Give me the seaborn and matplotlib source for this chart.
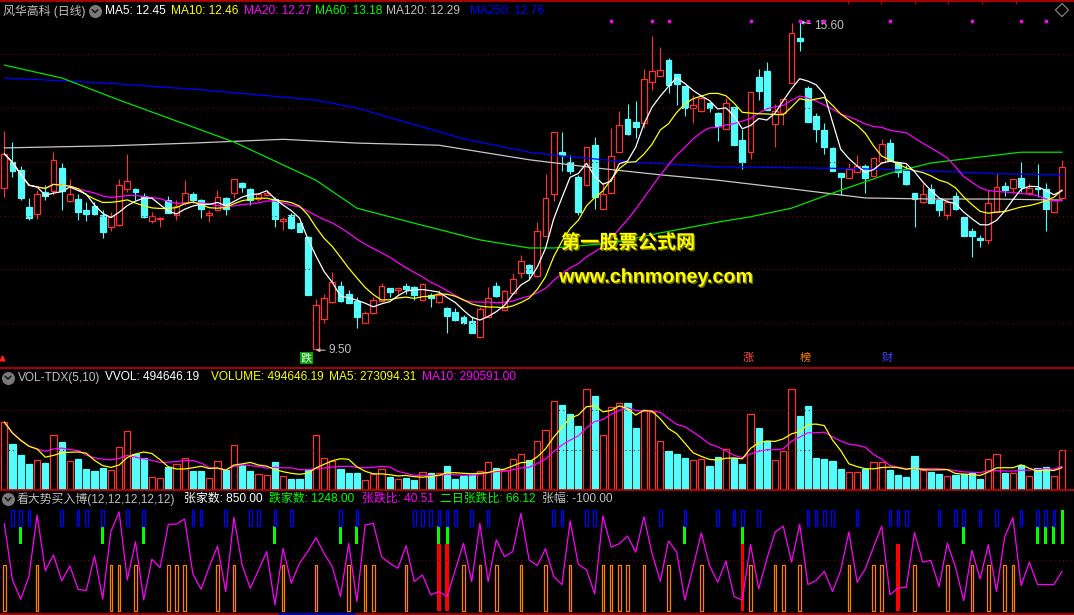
import numpy as np
import pandas as pd
import seaborn as sns
import matplotlib.pyplot as plt
from matplotlib import patheffects

# daily candles, oldest first
opens = [12.51, 13.00, 12.85, 12.16, 12.03, 12.44, 12.46, 12.89, 12.27, 12.31,
         12.11, 12.18, 12.01, 11.79, 11.83, 12.50, 12.50, 12.37, 11.90, 11.94,
         12.29, 12.01, 12.23, 12.40, 12.29, 12.01, 12.11, 12.33, 12.42, 12.61,
         12.50, 12.31, 12.38, 12.31, 11.90, 12.01, 11.86, 11.60, 9.52, 10.08,
         10.40, 10.69, 10.54, 10.41, 10.01, 10.19, 10.41, 10.66, 10.62, 10.69,
         10.67, 10.43, 10.53, 10.40, 10.28, 10.21, 10.12, 10.04, 9.75, 10.12,
         10.69, 10.25, 10.56, 10.93, 11.08, 10.88, 11.62, 12.40, 13.18, 13.00,
         12.72, 12.57, 13.31, 12.12, 12.42, 13.18, 13.80, 13.74, 13.72, 14.49,
         14.60, 14.89, 14.63, 14.41, 14.00, 13.95, 14.10, 13.91, 13.61, 14.02,
         13.41, 13.18, 14.58, 14.69, 13.70, 13.91, 14.47, 15.30, 14.37, 13.85,
         13.59, 13.26, 12.79, 12.70, 12.81, 12.92, 12.74, 13.00, 13.35, 12.98,
         12.85, 12.42, 12.26, 12.50, 12.29, 12.01, 12.37, 11.98, 11.72, 11.59,
         11.55, 12.07, 12.55, 12.51, 12.70, 12.42, 12.51, 12.50, 12.07, 12.33]
closes = [13.15, 12.83, 12.33, 11.96, 12.40, 12.37, 13.04, 12.46, 12.40, 12.07,
          12.03, 12.03, 11.70, 11.99, 12.57, 12.65, 12.44, 11.98, 11.99, 11.96,
          12.05, 12.18, 12.42, 12.29, 12.12, 12.05, 12.35, 12.12, 12.68, 12.53,
          12.29, 12.40, 12.42, 11.94, 11.94, 11.77, 11.70, 10.53, 10.34, 10.47,
          10.77, 10.41, 10.38, 10.12, 10.19, 10.43, 10.69, 10.58, 10.66, 10.64,
          10.53, 10.73, 10.47, 10.53, 10.14, 10.06, 10.01, 9.82, 10.27, 10.47,
          10.51, 10.60, 10.82, 11.16, 10.93, 11.72, 12.33, 13.56, 13.13, 12.83,
          12.07, 13.28, 12.35, 12.40, 13.11, 13.69, 13.52, 13.65, 14.54, 14.69,
          14.71, 14.43, 14.45, 14.00, 14.06, 14.19, 14.00, 13.67, 14.10, 13.31,
          13.00, 14.30, 14.32, 13.96, 13.95, 14.17, 15.40, 15.25, 13.74, 13.61,
          13.28, 12.83, 12.72, 12.87, 12.92, 12.70, 13.07, 13.33, 13.04, 12.81,
          12.59, 12.31, 12.40, 12.24, 12.11, 12.25, 12.12, 11.62, 11.62, 11.55,
          12.24, 12.53, 12.48, 12.68, 12.53, 12.51, 12.50, 12.12, 12.29, 12.91]
highs = [13.57, 13.37, 12.92, 12.33, 12.48, 12.57, 13.18, 12.98, 12.68, 12.40,
         12.25, 12.25, 12.11, 12.07, 12.68, 13.15, 12.52, 12.42, 12.07, 11.98,
         12.37, 12.29, 12.66, 12.44, 12.31, 12.11, 12.48, 12.35, 12.68, 12.63,
         12.52, 12.42, 12.48, 12.35, 11.98, 12.05, 11.88, 11.62, 10.45, 10.54,
         10.95, 10.79, 10.62, 10.49, 10.23, 10.49, 10.75, 10.66, 10.67, 10.75,
         10.69, 10.75, 10.56, 10.62, 10.30, 10.28, 10.15, 10.14, 10.30, 10.67,
         10.77, 10.62, 10.93, 11.27, 11.10, 11.88, 12.78, 13.56, 13.56, 13.13,
         12.76, 13.28, 13.46, 12.63, 13.63, 13.95, 14.08, 14.13, 14.73, 15.34,
         15.14, 14.93, 14.63, 14.41, 14.24, 14.24, 14.11, 13.93, 14.19, 14.02,
         13.61, 14.30, 14.73, 14.86, 14.08, 14.17, 15.58, 15.60, 14.41, 13.91,
         13.72, 13.28, 12.79, 12.98, 13.13, 12.96, 13.09, 13.43, 13.43, 13.00,
         12.94, 12.42, 12.61, 12.59, 12.31, 12.31, 12.44, 11.98, 11.77, 11.64,
         12.48, 12.79, 12.63, 12.68, 13.00, 12.61, 12.96, 12.61, 12.29, 13.04]
lows = [12.35, 12.72, 12.29, 11.92, 11.94, 12.29, 12.38, 12.11, 12.25, 11.92,
        11.90, 12.01, 11.59, 11.72, 11.81, 12.44, 12.29, 11.96, 11.86, 11.79,
        12.05, 11.92, 12.20, 12.24, 11.96, 11.88, 12.09, 12.01, 12.33, 12.44,
        12.20, 12.27, 12.37, 11.79, 11.73, 11.75, 11.70, 10.53, 9.50, 10.01,
        10.38, 10.40, 10.38, 9.91, 10.01, 10.17, 10.40, 10.49, 10.53, 10.54,
        10.43, 10.41, 10.30, 10.38, 9.82, 10.04, 9.99, 9.82, 9.75, 10.12,
        10.49, 10.23, 10.54, 10.84, 10.84, 10.86, 11.62, 12.27, 12.83, 12.78,
        12.01, 12.55, 12.12, 12.12, 12.42, 13.18, 13.50, 13.44, 13.63, 14.34,
        14.60, 14.28, 14.06, 13.85, 13.72, 13.93, 13.93, 13.39, 13.61, 13.31,
        12.87, 13.05, 14.15, 13.96, 13.28, 13.69, 14.47, 15.06, 13.74, 13.37,
        13.15, 12.83, 12.38, 12.70, 12.81, 12.42, 12.74, 12.98, 13.04, 12.72,
        12.57, 11.79, 12.24, 12.24, 11.99, 11.94, 12.11, 11.62, 11.23, 11.42,
        11.47, 12.07, 12.37, 12.42, 12.44, 12.38, 12.35, 11.72, 12.07, 12.33]

# volume, thousands of lots
volumes_k = [849, 577, 439, 326, 372, 339, 686, 603, 360, 389,
             264, 238, 276, 247, 536, 736, 456, 397, 159, 146,
             289, 322, 397, 238, 238, 146, 360, 255, 561, 310,
             238, 197, 184, 351, 172, 138, 138, 247, 686, 397,
             360, 264, 213, 213, 121, 201, 259, 163, 134, 151,
             126, 222, 213, 209, 301, 138, 180, 188, 238, 347,
             276, 255, 385, 448, 377, 611, 749, 1113, 1067, 954,
             803, 1264, 1180, 686, 1038, 1088, 1092, 778, 992, 971,
             611, 490, 452, 402, 372, 385, 301, 414, 510, 397,
             326, 950, 778, 611, 372, 485, 1264, 920, 1054, 397,
             389, 364, 264, 222, 222, 264, 347, 347, 251, 188,
             163, 427, 247, 226, 201, 172, 188, 201, 209, 138,
             385, 448, 213, 209, 314, 172, 272, 289, 172, 494.65]

# long moving averages read at some days (0-based day index)
ma60_days = [0, 7, 14, 28, 38, 43, 50, 58, 64, 67, 74, 80, 87, 91, 96, 101, 108, 113, 119, 124, 129]
ma60_vals = [14.80, 14.56, 14.15, 13.37, 12.66, 12.14, 11.86, 11.55, 11.40, 11.40, 11.49,
             11.68, 11.88, 11.98, 12.14, 12.42, 12.79, 12.98, 13.09, 13.18, 13.18]
ma120_days = [0, 13, 23, 34, 43, 53, 64, 72, 80, 87, 97, 105, 113, 121, 129]
ma120_vals = [13.26, 13.30, 13.35, 13.42, 13.35, 13.31, 13.04, 12.89, 12.76, 12.66,
              12.48, 12.33, 12.31, 12.31, 12.29]
ma250_days = [0, 12, 24, 38, 43, 56, 64, 68, 76, 87, 97, 105, 113, 121, 129]
ma250_vals = [14.56, 14.47, 14.34, 14.15, 14.00, 13.43, 13.18, 13.11, 13.00, 12.91,
              12.89, 12.87, 12.83, 12.78, 12.76]

# up/down ratio of the lower indicator
ratio = [82.1, 32.9, 16.1, 35.8, 89.4, 41.0, 54.6, 32.1, 45.1, 24.8,
         23.7, 53.8, 16.4, 74.9, 92.2, 32.9, 66.2, 15.6, 50.9, 43.6,
         81.3, 81.5, 85.9, 38.1, 24.8, 44.5, 62.4, 22.8, 87.3, 46.0,
         25.7, 41.6, 57.5, 11.2, 60.4, 30.0, 47.4, 57.5, 69.7, 56.1,
         44.5, 18.5, 64.8, 14.1, 80.7, 82.1, 53.2, 47.4, 43.1, 62.7,
         31.5, 37.3, 19.9, 22.8, 18.5, 41.6, 64.8, 31.5, 82.1, 31.5,
         67.7, 53.2, 57.5, 90.8, 50.3, 45.5, 60.1, 35.9, 28.9, 84.3,
         46.4, 41.7, 20.7, 88.6, 61.5, 64.4, 71.1, 57.1, 87.8, 55.7,
         31.8, 66.8, 57.1, 15.5, 44.0, 73.8, 45.5, 30.9, 49.3, 18.4,
         15.5, 63.8, 25.1, 51.3, 74.6, 79.6, 48.4, 81.3, 28.9, 32.4,
         40.5, 23.0, 41.1, 74.6, 30.9, 42.6, 61.5, 79.6, 20.1, 25.9,
         26.5, 74.1, 48.4, 49.9, 27.1, 65.0, 44.0, 14.9, 58.6, 33.8,
         63.6, 23.0, 70.3, 87.2, 28.0, 48.4, 28.9, 28.9, 28.9, 40.51]

# signal days of the lower indicator (1-based day numbers)
blue_days = [2, 3, 4, 8, 10, 11, 13, 16, 18, 24, 25, 28, 31, 32, 34, 36, 42, 44, 51, 52,
             53, 54, 55, 56, 58, 60, 68, 69, 72, 73, 81, 84, 88, 90, 91, 93, 99, 100,
             101, 102, 105, 109, 110, 111, 115, 117, 118, 120, 122, 125, 127, 128, 129]
green_days = [3, 13, 18, 34, 42, 44, 54, 55, 84, 91, 118, 127, 128, 129]
green_full_days = [130]
red_days = [54, 55, 91, 110]
orange_days = [1, 5, 14, 15, 17, 21, 22, 23, 27, 29, 35, 39, 43, 45, 46, 50, 57, 59, 61, 64,
               67, 70, 74, 75, 76, 77, 79, 82, 86, 92, 95, 96, 98, 104, 107, 108, 112,
               116, 119, 121, 123, 124]
top_dot_days = [75, 80, 82, 92, 98, 99, 101, 109, 119, 125, 128]

W, H = 1074, 615
RED = '#ff3232'
CYAN = '#54fcfc'
GRID = '#8c0000'
LINE_RED = '#c80000'

sns.set_style('dark', {'axes.facecolor': 'black', 'figure.facecolor': 'black'})
plt.rcParams['font.family'] = ['Liberation Sans', 'Noto Sans CJK SC']

fig = plt.figure(figsize=(W / 100, H / 100), dpi=100, facecolor='black')


def panel(top, bottom):
    ax = fig.add_axes([0, 1 - bottom / H, 1, (bottom - top) / H])
    ax.set_facecolor('black')
    return ax


def grid(ax, lvl):
    ax.axhline(lvl, color=GRID, lw=0.75, ls=(0, (1, 3)))


n = len(closes)
days = np.arange(n)
is_up = [c >= o for o, c in zip(opens, closes)]
XLIM = (-0.524, 130.45)

# ---------------- main price panel
ax = panel(18, 366)
for lvl in range(10, 16):
    grid(ax, lvl)
for i in range(n):
    o, c, h, l = opens[i], closes[i], highs[i], lows[i]
    top, bot = max(o, c), min(o, c)
    col = RED if is_up[i] else CYAN
    ax.vlines(i, top, h, color=col, lw=0.8)
    ax.vlines(i, l, bot, color=col, lw=0.8)
    ax.bar(i, max(top - bot, 0.01), bottom=bot, width=0.72,
           facecolor='black' if is_up[i] else CYAN, edgecolor=col, lw=0.9)

close_s = pd.Series(closes)
sns.lineplot(x=ma250_days, y=ma250_vals, ax=ax, color='#0000ff', lw=0.9)
sns.lineplot(x=ma120_days, y=ma120_vals, ax=ax, color='#c8c8c8', lw=0.9)
sns.lineplot(x=ma60_days, y=ma60_vals, ax=ax, color='#00e600', lw=0.9)
sns.lineplot(x=days, y=close_s.rolling(20, min_periods=1).mean(), ax=ax, color='#ff00ff', lw=0.9)
sns.lineplot(x=days, y=close_s.rolling(10, min_periods=1).mean(), ax=ax, color='#ffff00', lw=0.9)
sns.lineplot(x=days, y=close_s.rolling(5, min_periods=1).mean(), ax=ax, color='white', lw=0.9)
ax.scatter(np.array(top_dot_days) - 1, [15.62] * len(top_dot_days), s=3, marker='s',
           color='#ff00ff', clip_on=False, zorder=5)

hi = int(np.argmax(highs))
lo = int(np.argmin(lows))
ax.annotate(f'{highs[hi]:.2f}', xy=(hi, highs[hi]), xytext=(10, -3), textcoords='offset points',
            color='#c0c0c0', fontsize=8.6, va='center',
            arrowprops=dict(arrowstyle='-|>', color='#c0c0c0', lw=0.8, mutation_scale=5,
                            shrinkA=0, shrinkB=0))
ax.annotate(f'{lows[lo]:.2f}', xy=(lo, lows[lo]), xytext=(9, 0), textcoords='offset points',
            color='#c0c0c0', fontsize=8.6, va='center',
            arrowprops=dict(arrowstyle='-|>', color='#c0c0c0', lw=0.8, mutation_scale=5,
                            shrinkA=0, shrinkB=0))
ax.set_xlim(*XLIM)
ax.set_ylim(9.2063, 15.6747)
ax.axis('off')

# ---------------- volume panel
axv = panel(378, 490)
for lvl in (500000, 1000000):
    grid(axv, lvl)
vol = pd.Series(volumes_k) * 1000
for i in range(n):
    col = RED if is_up[i] else CYAN
    axv.bar(i, vol[i], width=0.74, facecolor='black' if is_up[i] else CYAN, edgecolor=col, lw=0.9)
sns.lineplot(x=days, y=vol.rolling(10, min_periods=1).mean(), ax=axv, color='#ff00ff', lw=0.9)
sns.lineplot(x=days, y=vol.rolling(5, min_periods=1).mean(), ax=axv, color='#ffff00', lw=0.9)
axv.set_xlim(*XLIM)
axv.set_ylim(0, 1.4e6)
axv.axis('off')

# ---------------- market breadth indicator panel
axi = panel(490, 613)
grid(axi, 50)
for d in orange_days:
    axi.bar(d - 1, 45.9 - 6.2, bottom=6.2, width=0.3, facecolor='none', edgecolor='#ff8000', lw=0.9)
for d in red_days:
    axi.bar(d - 1, 64.2 - 5.5, bottom=5.5, width=0.42, color='#ff0000', lw=0)
for d in green_days:
    axi.bar(d - 1, 79.8 - 64.2, bottom=64.2, width=0.38, color='#00ff00', lw=0)
for d in green_full_days:
    axi.bar(d - 1, 93.7 - 64.2, bottom=64.2, width=0.38, color='#00ff00', lw=0)
for d in blue_days:
    axi.bar(d - 1, 93.7 - 80.1, bottom=80.1, width=0.3, facecolor='none', edgecolor='#0000ff', lw=0.9)
sns.lineplot(x=days, y=ratio, ax=axi, color='#ff00ff', lw=0.9)
axi.set_xlim(*XLIM)
axi.set_ylim(4.17, 111.13)
axi.axis('off')

# ---------------- overlay: headers, separators, labels (pixel coords)
ov = fig.add_axes([0, 0, 1, 1])
ov.set_xlim(0, W)
ov.set_ylim(H, 0)
ov.axis('off')
ov.patch.set_alpha(0)

for y in (1, 367.5, 490, 613.5):
    ov.axhline(y, color=LINE_RED, lw=1.2)
# date ticks along the top and bottom borders
for x in (848, 881, 915, 948, 982, 1016):
    ov.vlines(x, 1, 3.5, color=LINE_RED, lw=0.9)
for x in (76, 115, 154, 193, 233, 278, 355, 374, 421, 467, 511, 556, 601, 642, 683, 724,
          765, 802, 840, 876, 913, 955, 991, 1033):
    ov.vlines(x, 613.5, 615, color=LINE_RED, lw=0.9)
ov.hlines(614, 278, 355, color='#0000c0', lw=2)


def icon(x, y):
    ov.scatter(x, y, s=70, color='#7a7a7a', zorder=5)
    ov.plot([x - 2.8, x, x + 2.8], [y - 1.2, y + 1.6, y - 1.2], color='#1a1a1a', lw=1.2, zorder=6)


FS = 8.6
icon(95, 11)
main_header = [(3, '风华高科 (日线)', '#c0c0c0'), (105, 'MA5: 12.45', 'white'),
               (171, 'MA10: 12.46', '#ffff00'), (244, 'MA20: 12.27', '#ff00ff'),
               (315, 'MA60: 13.18', '#00ff00'), (386, 'MA120: 12.29', '#c0c0c0'),
               (470, 'MA250: 12.76', '#0000ff')]
for x, s, c in main_header:
    ov.text(x, 11, s, color=c, fontsize=FS, va='center', ha='left')

icon(8, 377.5)
vol_header = [(18, 'VOL-TDX(5,10)', '#c0c0c0'), (105, 'VVOL: 494646.19', 'white'),
              (211, 'VOLUME: 494646.19', '#ffff00'), (329, 'MA5: 273094.31', '#ffff00'),
              (422, 'MA10: 290591.00', '#ff00ff')]
for x, s, c in vol_header:
    ov.text(x, 377.5, s, color=c, fontsize=FS, va='center', ha='left')

icon(8, 499)
ind_header = [(17, '看大势买入博(12,12,12,12,12)', '#c0c0c0'), (184, '张家数: 850.00', 'white'),
              (269, '跌家数: 1248.00', '#00ff00'), (362, '张跌比: 40.51', '#ff00ff'),
              (440, '二日张跌比: 66.12', '#00ff00'), (542, '张幅: -100.00', '#c0c0c0')]
for x, s, c in ind_header:
    ov.text(x, 499, s, color=c, fontsize=FS, va='center', ha='left')

ov.scatter(1062, 10, marker='D', s=45, facecolors='none', edgecolors='#8c8c8c', lw=0.8)

# event tags under the price panel
ov.text(306.5, 358, '跌', color='white', fontsize=8, ha='center', va='center',
        bbox=dict(boxstyle='square,pad=0.1', fc='#00a000', ec='none'))
ov.text(748, 358, '涨', color='#ff5050', fontsize=8, ha='center', va='center')
ov.text(805, 358, '榜', color='#ff8000', fontsize=8, ha='center', va='center')
ov.text(887, 358, '财', color='#4040ff', fontsize=8, ha='center', va='center')
ov.scatter(2, 358, marker='^', s=12, color='#ff2020')

# watermark
shadow = [patheffects.withSimplePatchShadow(offset=(1, -1), shadow_rgbFace='#707000', alpha=1)]
ov.text(561, 243, '第一股票公式网', color='#ffff00', fontsize=13.8, fontweight='bold',
        family=['Noto Sans CJK SC'], va='center', ha='left', path_effects=shadow)
ov.text(559, 277, 'www.chnmoney.com', color='#ffff00', fontsize=14.2, fontweight='bold',
        va='center', ha='left', path_effects=shadow)

fig.savefig('out.png', dpi=100, facecolor='black')
